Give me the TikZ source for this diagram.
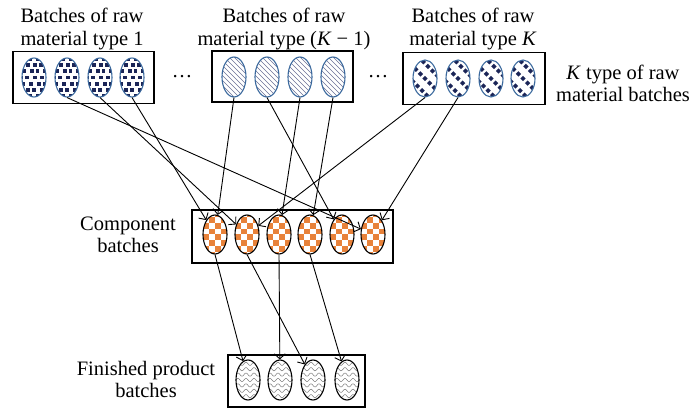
\documentclass[tikz,border=0pt]{standalone}
\usepackage{fontspec}
\setmainfont{Liberation Serif}
\usetikzlibrary{shapes.geometric,arrows.meta}
\definecolor{navy}{HTML}{1B2557}
\definecolor{rimblue}{HTML}{3C6A9E}
\definecolor{hatchgray}{HTML}{6A7096}
\definecolor{chkorange}{HTML}{E8823A}
\definecolor{wavegray}{HTML}{7A7A7A}
\begin{document}
\begin{tikzpicture}[x=1pt,y=-1pt,
  batchbox/.style={draw=black, line width=1.3pt, minimum height=52pt, inner sep=0pt},
  egg/.style={ellipse, minimum width=24pt, minimum height=39pt, inner sep=0pt, line width=1.1pt},
  % raw material type 1: scattered navy squares
  rawsq/.style={egg, draw=rimblue, path picture={
    \begin{scope}[shift={(path picture bounding box.center)}]
      \foreach \r in {-3,...,3}{\foreach \c in {-2,...,2}{
        \fill[navy] ({\c*7+mod(\r+10,2)*3.5-1.9+mod(\c+\r+10,3)*0.6},{\r*6.2-1.9}) rectangle ++(3.8,3.8);}}
    \end{scope}}},
  % raw material type K-1: diagonal hatching
  rawhatch/.style={egg, draw=rimblue, path picture={
    \begin{scope}[shift={(path picture bounding box.center)}]
      \foreach \a in {-45,-40,...,45}{\draw[hatchgray, line width=0.55pt] (\a-30,-30) -- (\a+30,30);}
    \end{scope}}},
  % raw material type K: diamonds in diagonal rows
  rawdiam/.style={egg, draw=rimblue, path picture={
    \begin{scope}[shift={(path picture bounding box.center)}]
      \foreach \i in {-5,...,5}{\foreach \j in {-3,...,3}{
        \fill[navy] ({\i*4.6+\j*7.5},{\i*4.6-\j*7.5}) +(-2.7,0) -- +(0,-2.7) -- +(2.7,0) -- +(0,2.7) -- cycle;}}
    \end{scope}}},
  % component batches: orange checkerboard
  comp/.style={egg, draw=black, path picture={
    \begin{scope}[shift={(path picture bounding box.center)}]
      \foreach \i in {-3,...,2}{\foreach \j in {-4,...,3}{
        \pgfmathtruncatemacro\oddcell{mod(\i+\j+20,2)}
        \ifnum\oddcell=0 \fill[chkorange] (\i*5.8,\j*5.8) rectangle ++(5.8,5.8);\fi}}
    \end{scope}}},
  % finished product batches: wavy lines
  prod/.style={egg, draw=black, path picture={
    \begin{scope}[shift={(path picture bounding box.center)}]
      \foreach \k in {-4,...,4}{
        \draw[wavegray, line width=0.5pt] plot[domain=-14:14, samples=40, smooth] (\x,{\k*5.4+1.6*sin(\x*45)});}
    \end{scope}}},
  feed/.style={-{Straight Barb[length=5pt,width=11pt]}, line width=0.9pt},
  lbl/.style={align=center, font=\fontsize{20.5}{22}\selectfont, inner sep=0pt}
]
\useasboundingbox (0,0) rectangle (690,411);

% boxes
\node[batchbox, minimum width=141pt] (boxA) at (83.5,77.5) {};
\node[batchbox, minimum width=141pt, minimum height=51pt] (boxM) at (282.5,76.5) {};
\node[batchbox, minimum width=142pt] (boxK) at (474,78.5) {};
\node[batchbox, minimum width=201pt, minimum height=53pt] (boxC) at (292.5,236.5) {};
\node[batchbox, minimum width=137pt] (boxF) at (296.5,381) {};

% raw material batches
\foreach \n/\x in {1/34,2/67,3/100,4/132}{\node[rawsq] (a\n) at (\x,77.5) {};}
\foreach \n/\x in {1/234,2/267,3/300,4/333}{\node[rawhatch, minimum height=40pt] (m\n) at (\x,77) {};}
\foreach \n/\x in {1/425,2/458,3/491,4/523}{\node[rawdiam, minimum height=37pt] (k\n) at (\x,78.5) {};}

% component and product batches
\foreach \n/\x in {1/215,2/247,3/279,4/310,5/342,6/373}{\node[comp] (c\n) at (\x,234.5) {};}
\foreach \n/\x in {1/248,2/280,3/313,4/347}{\node[prod, minimum height=40pt] (f\n) at (\x,380) {};}

% labels
\node[lbl] (tA) at (82,29) {Batches of raw\\material type 1};
\node[lbl] (tM) at (284,29) {Batches of raw\\material type (\textit{K} − 1)};
\node[lbl] (tK) at (473,29) {Batches of raw\\material type \textit{K}};
\node[lbl] (tKall) at (623,83) {\textit{K} type of raw\\material batches};
\node[lbl] (tC) at (128,235) {Component\\batches};
\node[lbl] (tF) at (146,379) {Finished product\\batches};
\node[lbl] (dots1) at (182,77) {…};
\node[lbl] (dots2) at (378,77) {…};

% raw material -> component
\draw[feed] (a2.south) -- (c6);
\draw[feed] (a3.south) -- (c2);
\draw[feed] (a4.south) -- (c1);
\draw[feed] (m1.south) -- (c1);
\draw[feed] (m2.south) -- (c5);
\draw[feed] (m3.south) -- (c3);
\draw[feed] (m4.south) -- (c4);
\draw[feed] (k1.south) -- (c2);
\draw[feed] (k2.south) -- (c6);

% component -> finished product
\draw[feed] (c1.south) -- (f1);
\draw[feed] (c2.south) -- (f3);
\draw[feed] (c3.south) -- (f2);
\draw[feed] (c4.south) -- (f4);
\end{tikzpicture}
\end{document}
